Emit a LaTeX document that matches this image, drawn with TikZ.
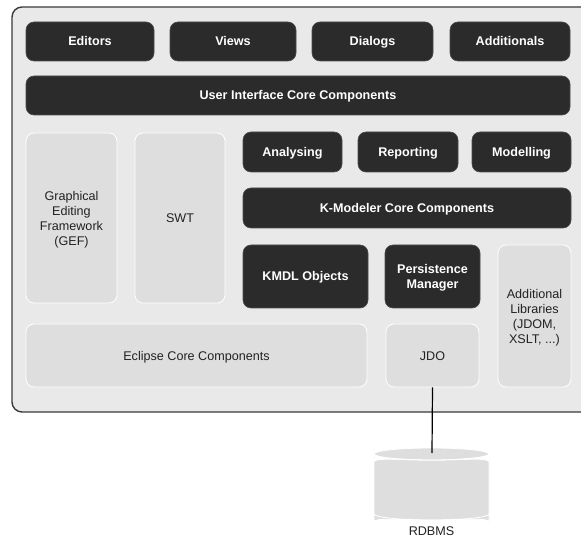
\documentclass[tikz,border=0pt]{standalone}
\usepackage{fontspec}
\setmainfont{Liberation Sans}
\definecolor{darkbox}{HTML}{2B2B2B}
\definecolor{outerfill}{HTML}{E9E9E9}
\definecolor{lightbox}{HTML}{DEDEDE}
\definecolor{outerline}{HTML}{3A3A3A}
\definecolor{txt}{HTML}{222222}
\tikzset{
  darkbox/.style={draw=darkbox!85!white, line width=0.6pt, fill=darkbox, rounded corners=8pt,
    text=white, font=\fontsize{12.6}{15}\selectfont\bfseries, align=center, inner sep=0pt},
  lightbox/.style={draw=white, line width=0.8pt, fill=lightbox, rounded corners=8pt,
    text=txt, font=\fontsize{12.6}{15}\selectfont, align=center, inner sep=0pt},
  oneline/.style={text height=9pt, text depth=0pt},
  multiline/.style={text depth=0pt},
  outerbox/.style={draw=outerline, line width=1.4pt, fill=outerfill, rounded corners=10pt},
  conn/.style={draw=black, line width=1.2pt},
}
\begin{document}
\begin{tikzpicture}[x=1pt,y=-1pt]
\useasboundingbox (0,0) rectangle (581,537);
\clip (0,0) rectangle (581,537);
\fill[white] (0,0) rectangle (581,537);
% outer container
\draw[outerbox] (12,7) rectangle (600,412);
% top row
\node[darkbox, oneline, minimum width=128, minimum height=39] (editors) at (90,41.5) {Editors};
\node[darkbox, oneline, minimum width=126, minimum height=39] (views) at (233,41.5) {Views};
\node[darkbox, oneline, minimum width=121, minimum height=39] (dialogs) at (372.5,41.5) {Dialogs};
\node[darkbox, oneline, minimum width=120, minimum height=39] (additionals) at (510,41.5) {Additionals};
\node[darkbox, oneline, minimum width=544, minimum height=39] (uicore) at (298,95.5) {User Interface Core Components};
% left column
\node[lightbox, multiline, minimum width=91, minimum height=170] (gef) at (71.5,218) {Graphical\\Editing\\Framework\\(GEF)};
\node[lightbox, oneline, minimum width=90, minimum height=170] (swt) at (180,218) {SWT};
% right part
\node[darkbox, oneline, minimum width=99, minimum height=40] (analysing) at (292.5,152) {Analysing};
\node[darkbox, oneline, minimum width=100, minimum height=40] (reporting) at (408,152) {Reporting};
\node[darkbox, oneline, minimum width=99, minimum height=40] (modelling) at (521.5,152) {Modelling};
\node[darkbox, oneline, minimum width=328, minimum height=40] (kcore) at (407,208) {K-Modeler Core Components};
\node[darkbox, oneline, minimum width=125, minimum height=63] (kmdl) at (305.5,276.5) {KMDL Objects};
\node[darkbox, multiline, minimum width=95, minimum height=63] (persist) at (432.5,276.5) {Persistence\\Manager};
\node[lightbox, multiline, minimum width=73, minimum height=142] (addlib) at (534.5,316) {Additional\\Libraries\\(JDOM,\\XSLT, ...)};
\node[lightbox, oneline, minimum width=341, minimum height=63] (eclipse) at (196.5,355.5) {Eclipse Core Components};
\node[lightbox, oneline, minimum width=93, minimum height=63] (jdo) at (432.5,355.5) {JDO};
% database cylinder
\fill[lightbox] (374,454) -- (374,514) arc[start angle=180, end angle=0, x radius=57.5, y radius=6]
  -- (489,454) arc[start angle=0, end angle=180, x radius=57.5, y radius=6] -- cycle;
\fill[lightbox] (431.5,454) ellipse[x radius=57.5, y radius=6];
\draw[white, line width=0.8pt] (489,454) arc[start angle=0, end angle=180, x radius=57.5, y radius=6];
\draw[white, line width=0.8pt] (374,514) arc[start angle=180, end angle=0, x radius=57.5, y radius=6];
\coordinate (dbtop) at (432,453);
\node[text=txt, font=\fontsize{12.6}{15}\selectfont] (rdbms) at (431.5,531) {RDBMS};
% connector
\draw[conn] (jdo.south) -- (dbtop);
\end{tikzpicture}
\end{document}
